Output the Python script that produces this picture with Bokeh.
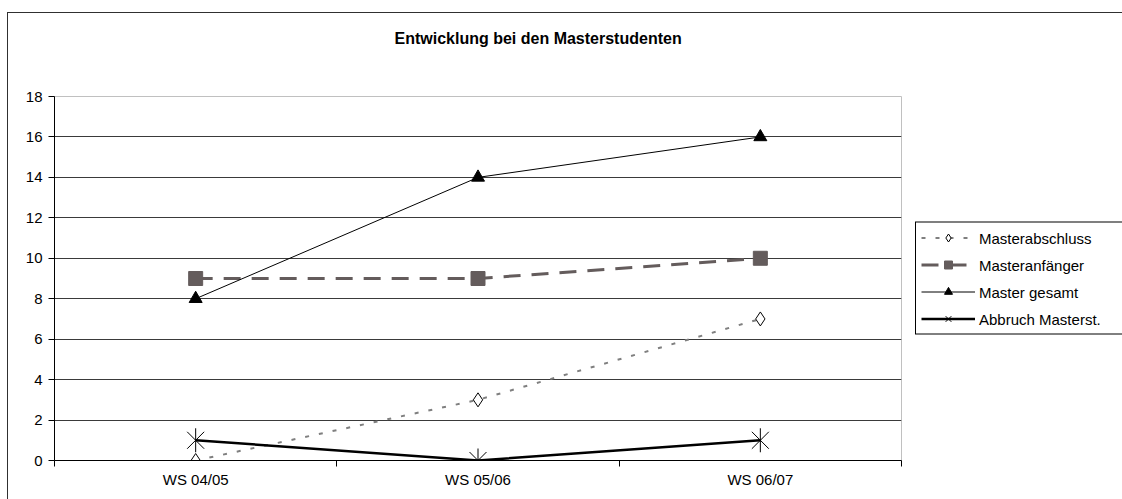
import math
from bokeh.plotting import figure
from bokeh.models import (FixedTicker, Range1d, Legend, LegendItem, Title)
from bokeh.embed import file_html
from bokeh.resources import INLINE

# ---- data ----
categories = ["WS 04/05", "WS 05/06", "WS 06/07"]
masterabschluss = [0, 3, 7]
masteranfaenger = [9, 9, 10]
master_gesamt = [8, 14, 16]
abbruch = [1, 0, 1]
y_ticks = [0, 2, 4, 6, 8, 10, 12, 14, 16, 18]
title_text = "Entwicklung bei den Masterstudenten"

x = list(range(len(categories)))
FONT = "Liberation Sans"

p = figure(frame_width=847, frame_height=364, output_backend="svg", toolbar_location=None,
           x_range=Range1d(-0.5, len(categories) - 0.5),
           y_range=Range1d(y_ticks[0], y_ticks[-1]),
           min_border_left=46, min_border_right=221,
           min_border_top=83, min_border_bottom=39)
p.title.visible = False
p.styles = {"margin-left": "7px", "margin-top": "12px",
            "border-left": "1px solid #303030", "border-top": "1px solid #303030"}

spacer = Title(text=" ", text_font=FONT, text_font_size="16px", standoff=31)
p.add_layout(spacer, "above")
main_title = Title(text=title_text, align="left", offset=340, standoff=0,
                   text_font=FONT, text_font_size="16px", text_font_style="bold",
                   text_color="black")
p.add_layout(main_title, "above")

p.background_fill_color = "white"
p.border_fill_color = "white"
p.outline_line_color = "#c0c0c0"
p.outline_line_width = 1

# axes
p.xaxis.ticker = FixedTicker(ticks=x, minor_ticks=[i - 0.5 for i in range(len(categories) + 1)])
p.xaxis.major_label_overrides = {i: c for i, c in enumerate(categories)}
p.xaxis.major_tick_line_color = None
p.xaxis.major_tick_out = 0
p.xaxis.major_tick_in = 0
p.xaxis.minor_tick_out = 6
p.xaxis.minor_tick_in = 0
p.xaxis.minor_tick_line_color = "black"
p.xaxis.axis_line_color = "black"
p.xaxis.major_label_standoff = 4
p.xaxis.major_label_text_font = FONT
p.xaxis.major_label_text_font_size = "15px"
p.xaxis.major_label_text_color = "black"

p.yaxis.ticker = FixedTicker(ticks=y_ticks)
p.yaxis.major_tick_out = 6
p.yaxis.major_tick_in = 0
p.yaxis.minor_tick_line_color = None
p.yaxis.major_tick_line_color = "black"
p.yaxis.axis_line_color = "black"
p.yaxis.major_label_standoff = 6
p.yaxis.major_label_text_font = FONT
p.yaxis.major_label_text_font_size = "15px"
p.yaxis.major_label_text_color = "black"

p.xgrid.visible = False
p.ygrid.ticker = FixedTicker(ticks=y_ticks[1:-1])
p.ygrid.grid_line_color = "#3a3a3a"
p.ygrid.grid_line_width = 1

# series
r1l = p.line(x, masterabschluss, line_color="#7f7f7f", line_width=2, line_dash="4 10")
r1m = p.scatter(x, masterabschluss, marker="diamond", size=14, fill_color="white",
                line_color="black", line_width=1)

r2l = p.line(x, masteranfaenger, line_color="#645c5c", line_width=3, line_dash="17 11")
r2m = p.scatter(x, masteranfaenger, marker="square", size=14, fill_color="#645c5c",
                line_color="#645c5c")

r3l = p.line(x, master_gesamt, line_color="black", line_width=1)
r3m = p.scatter(x, master_gesamt, marker="triangle", size=13, fill_color="black",
                line_color="black")

r4l = p.line(x, abbruch, line_color="black", line_width=2.5)
r4x = p.scatter(x, abbruch, marker="x", size=24, line_color="black", line_width=1)
r4v = p.scatter(x, abbruch, marker="dash", size=24, angle=math.pi / 2,
                line_color="black", line_width=1)

legend = Legend(items=[
    LegendItem(label="Masterabschluss", renderers=[r1l, r1m]),
    LegendItem(label="Masteranfänger", renderers=[r2l, r2m]),
    LegendItem(label="Master gesamt", renderers=[r3l, r3m]),
    LegendItem(label="Abbruch Masterst.", renderers=[r4l, r4x, r4v]),
], location="center_left", margin=14)
legend.glyph_width = 54
legend.glyph_height = 20
legend.label_height = 20
legend.label_standoff = 4
legend.spacing = 7
legend.padding = 5
legend.label_width = 143
legend.border_line_color = "black"
legend.border_line_width = 1
legend.border_line_alpha = 1
legend.background_fill_color = "white"
legend.background_fill_alpha = 1
legend.label_text_font = FONT
legend.label_text_font_size = "15px"
legend.label_text_color = "black"
p.add_layout(legend, "right")

html = file_html(p, INLINE)
html = html.replace("<head>", "<head><style>html, body { overflow: hidden; }</style>", 1)
open("out.html", "w").write(html)
